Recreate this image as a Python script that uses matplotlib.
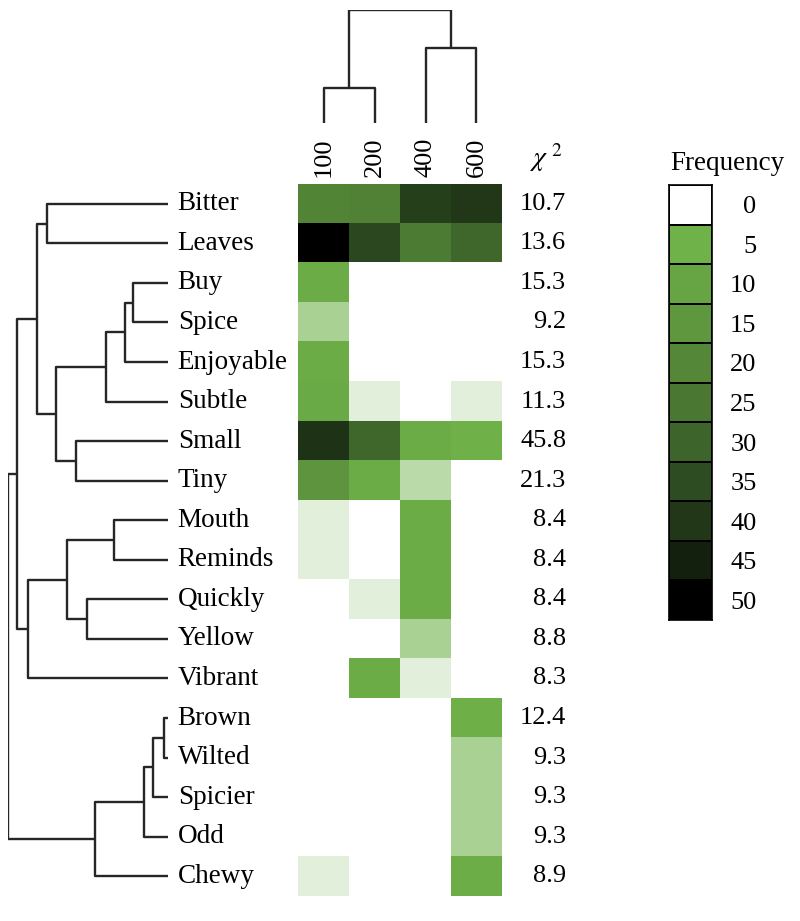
import numpy as np
import matplotlib
matplotlib.use("Agg")
import matplotlib.pyplot as plt
from matplotlib.colors import LinearSegmentedColormap, ListedColormap

plt.rcParams['font.family'] = ['Liberation Serif', 'DejaVu Serif']
plt.rcParams['mathtext.fontset'] = 'stix'

# words (rows) and sample columns
words = ['Bitter', 'Leaves', 'Buy', 'Spice', 'Enjoyable', 'Subtle', 'Small', 'Tiny',
         'Mouth', 'Reminds', 'Quickly', 'Yellow', 'Vibrant', 'Brown', 'Wilted',
         'Spicier', 'Odd', 'Chewy']
columns = ['100', '200', '400', '600']
chi2 = ['10.7', '13.6', '15.3', '9.2', '15.3', '11.3', '45.8', '21.3', '8.4',
        '8.4', '8.4', '8.8', '8.3', '12.4', '9.3', '9.3', '9.3', '8.9']

# estimated frequencies
freq_100 = [21, 50, 7, 3, 7, 8, 41, 16, 1, 1, 0, 0, 0, 0, 0, 0, 0, 1]
freq_200 = [22, 36, 0, 0, 0, 1, 29, 7, 0, 0, 1, 0, 7, 0, 0, 0, 0, 0]
freq_400 = [38, 24, 0, 0, 0, 0, 7, 2.5, 7, 7, 7, 3, 1, 0, 0, 0, 0, 0]
freq_600 = [40, 29, 0, 0, 0, 1, 5.5, 0, 0, 0, 0, 0, 0, 6, 3, 3, 3, 6.5]

# row dendrogram merges: (left, right, height); ids >= 18 are earlier merges
row_merges = [(0, 1, 121), (2, 3, 35), (19, 4, 43), (20, 5, 62), (6, 7, 92),
              (21, 22, 112), (18, 23, 131), (8, 9, 54), (10, 11, 81), (25, 26, 101),
              (27, 12, 140), (24, 28, 151), (13, 14, 4), (30, 15, 15), (31, 16, 24),
              (32, 17, 73), (29, 33, 160)]
# column dendrogram merges
col_merges = [(0, 1, 35), (2, 3, 75), (4, 5, 113)]

# legend
cbar_levels = [0, 5, 10, 15, 20, 25, 30, 35, 40, 45, 50]
cbar_colors = ['#ffffff', '#70b24a', '#67a444', '#5f973f', '#548838', '#4a7832',
               '#3d642a', '#2e4c21', '#213718', '#12200d', '#000000']

data = np.array([freq_100, freq_200, freq_400, freq_600]).T
cmap = LinearSegmentedColormap.from_list(
    'freq', list(zip(np.array(cbar_levels) / 50, cbar_colors)))

W, H = 800, 921
fig = plt.figure(figsize=(W / 100, H / 100), dpi=100)


def px_axes(x0, y0, x1, y1):
    return fig.add_axes([x0 / W, 1 - y1 / H, (x1 - x0) / W, (y1 - y0) / H])


def draw_dendro(ax, merges, n, vertical):
    pos = {i: float(i) for i in range(n)}
    hgt = {i: 0.0 for i in range(n)}
    for k, (a, b, h) in enumerate(merges):
        xs = [hgt[a], h, h, hgt[b]]
        ys = [pos[a], pos[a], pos[b], pos[b]]
        if vertical:
            ax.plot(ys, xs, color='#262626', lw=1.7, solid_capstyle='butt')
        else:
            ax.plot(xs, ys, color='#262626', lw=1.7, solid_capstyle='butt')
        pos[n + k] = (pos[a] + pos[b]) / 2
        hgt[n + k] = h


# heatmap
ax = px_axes(298, 184, 502, 896)
ax.imshow(data, cmap=cmap, vmin=0, vmax=50, aspect='auto', interpolation='nearest')
ax.set_xlim(-0.5, 3.5)
ax.set_ylim(len(words) - 0.5, -0.5)
ax.axis('off')
for j, c in enumerate(columns):
    ax.annotate(c, xy=(j, -0.5), xytext=(0, 5), textcoords='offset points',
                rotation=90, ha='center', va='bottom', fontsize=19)
tr = ax.get_yaxis_transform()
for i, v in enumerate(chi2):
    ax.text(1.315, i, v, transform=tr, ha='right', va='center', fontsize=19)
ax.text(1.215, -0.75, r'$\chi^{\ 2}$', transform=tr, ha='center', va='bottom', fontsize=20)

# row dendrogram
axd = px_axes(8, 184, 168, 896)
draw_dendro(axd, row_merges, len(words), vertical=False)
axd.set_xlim(160, 0)
axd.set_ylim(len(words) - 0.5, -0.5)
axd.axis('off')
for i, w in enumerate(words):
    axd.annotate(w, xy=(0, i), xytext=(7, 0), textcoords='offset points',
                 ha='left', va='center', fontsize=19.5, annotation_clip=False)

# column dendrogram
axc = px_axes(298, 10, 502, 123)
draw_dendro(axc, col_merges, len(columns), vertical=True)
axc.set_xlim(-0.5, 3.5)
axc.set_ylim(0, 113)
axc.axis('off')

# legend
axl = px_axes(669, 185, 712, 620)
nlev = len(cbar_levels)
axl.pcolormesh([0, 1], np.arange(nlev + 1), np.arange(nlev).reshape(-1, 1),
               cmap=ListedColormap(cbar_colors), edgecolors='black', linewidth=1.2)
axl.set_xlim(0, 1)
axl.set_ylim(nlev, 0)
axl.set_xticks([])
axl.set_yticks(np.arange(nlev) + 0.5)
axl.set_yticklabels([str(v) for v in cbar_levels], fontsize=19)
axl.tick_params(left=False, labelleft=False, right=False, labelright=True, length=0, pad=32)
for t in axl.get_yticklabels():
    t.set_horizontalalignment('right')
for s in axl.spines.values():
    s.set_linewidth(1.2)
axl.text(1.35, 1.02, 'Frequency', transform=axl.transAxes, ha='center', va='bottom',
         fontsize=19.5)

fig.savefig('out.png', dpi=100)
